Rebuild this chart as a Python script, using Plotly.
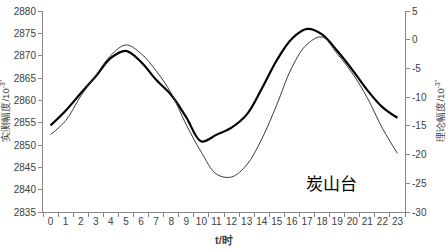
import plotly.graph_objects as go

hours = [str(h) for h in range(24)]
measured = [2854.4, 2857.7, 2861.6, 2865.4, 2869.5, 2871.1, 2868.6, 2864.6,
            2861.2, 2856.2, 2850.8, 2852.3, 2853.9, 2856.8, 2862.6, 2869.0,
            2873.8, 2876.0, 2874.8, 2871.1, 2866.9, 2862.3, 2858.5, 2856.1]
theory = [-16.5, -14.1, -9.8, -6.2, -2.7, -0.9, -2.4, -5.4,
          -9.3, -14.8, -19.6, -23.4, -23.9, -21.8, -17.3, -11.3,
          -4.8, -0.8, 0.5, -2.4, -5.8, -10.1, -15.4, -19.8]
left_ticks = [2835, 2840, 2845, 2850, 2855, 2860, 2865, 2870, 2875, 2880]
right_ticks = [-30, -25, -20, -15, -10, -5, 0, 5]
station = "炭山台"
x_title = "<b>t/时</b>"
left_title = "实测幅度/10<sup>-3″</sup>"
right_title = "理论幅度/10<sup>-3″</sup>"

W, H = 448, 250
ML, MR, MT, MB = 43, 43, 6, 38
pw, ph = W - ML - MR, H - MT - MB

def px(x):
    return (x - ML) / pw

def py(y):
    return 1 - (y - MT) / ph

font = "Liberation Sans, Arial, sans-serif"
tick_font = dict(family=font, size=10, color="#404040")
axis_common = dict(showline=True, linecolor="#868686", linewidth=1,
                   ticks="outside", ticklen=4, tickcolor="#868686",
                   showgrid=False, zeroline=False, tickfont=tick_font,
                   ticklabeloverflow="allow")

fig = go.Figure()
fig.add_trace(go.Scatter(x=hours, y=theory, mode="lines", yaxis="y2",
                         line=dict(color="#3a3a3a", width=1, shape="spline", smoothing=1),
                         showlegend=False))
fig.add_trace(go.Scatter(x=hours, y=measured, mode="lines",
                         line=dict(color="black", width=2.2, shape="spline", smoothing=1),
                         showlegend=False))

fig.update_layout(
    width=W, height=H,
    margin=dict(l=ML, r=MR, t=MT, b=MB),
    paper_bgcolor="white", plot_bgcolor="white",
    font=dict(family=font, color="#404040"),
    xaxis=dict(type="category", range=[-0.5, 23.5], tickson="boundaries",
               tickangle=0, **axis_common),
    yaxis=dict(range=[2835, 2880.02], tickvals=left_ticks,
               ticktext=[str(v) for v in left_ticks], **axis_common),
    yaxis2=dict(range=[-30, 5.02], overlaying="y", side="right", tickvals=right_ticks,
                ticktext=[str(v) for v in right_ticks], **axis_common),
    annotations=[
        dict(text=station, x=px(331), y=py(182), xref="paper", yref="paper",
             xanchor="center", yanchor="middle", showarrow=False,
             font=dict(family="Noto Sans CJK SC", size=17, color="black")),
        dict(text=x_title, x=px(224), y=py(241), xref="paper", yref="paper",
             xanchor="center", yanchor="middle", showarrow=False,
             font=dict(family=font, size=11, color="#404040")),
        dict(text=left_title, x=px(5), y=py(108), xref="paper", yref="paper",
             xanchor="center", yanchor="middle", showarrow=False, textangle=-90,
             font=dict(family=font, size=9.5, color="#404040")),
        dict(text=right_title, x=px(440), y=py(108), xref="paper", yref="paper",
             xanchor="center", yanchor="middle", showarrow=False, textangle=-90,
             font=dict(family=font, size=9.5, color="#404040")),
    ],
)

fig.write_html("out.html", config={"displayModeBar": False},
               post_script="document.body.style.margin='0';document.body.style.overflow='hidden';")
